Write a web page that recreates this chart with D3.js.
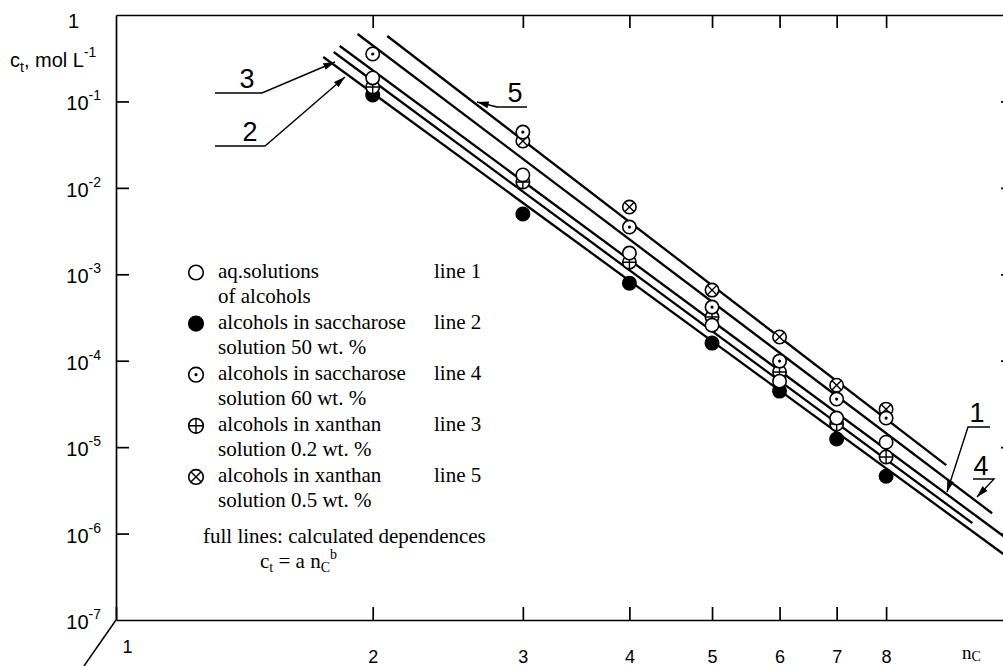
<!DOCTYPE html>
<html>
<head>
<meta charset="utf-8">
<script src="https://cdn.jsdelivr.net/npm/d3@7"></script>
<style>
body { margin: 0; background: #fff; }
svg { display: block; }
</style>
</head>
<body>
<script>
let width = 1003
let height = 666

// measured points, c_t in mol/L for n_C = 2..8
const nC = [2, 3, 4, 5, 6, 7, 8]
const aqAlcohols = [0.187, 0.0141, 0.00176, 2.58e-4, 5.8e-5, 2.17e-5, 1.14e-5]
const saccharose50 = [0.119, 0.00498, 7.9e-4, 1.6e-4, 4.45e-5, 1.24e-5, 4.6e-6]
const saccharose60 = [0.354, 0.0442, 0.00352, 4.17e-4, 9.9e-5, 3.6e-5, 2.17e-5]
const xanthan02 = [0.147, 0.0117, 0.00138, 3.2e-4, 7.4e-5, 1.85e-5, 7.7e-6]
const xanthan05 = [null, 0.0348, 0.0060, 6.56e-4, 1.88e-4, 5.2e-5, 2.75e-5]

// calculated lines c_t = a nC^b, given by their end points
const lineIds = [5, 4, 1, 3, 2]
const lineFromN = [2.08, 1.92, 1.83, 1.80, 1.75]
const lineFromC = [0.571, 0.603, 0.438, 0.373, 0.327]
const lineToN = [9.41, 10.65, 11.3, 10.1, 11.3]
const lineToC = [6.19e-6, 1.72e-6, 7.6e-7, 1.32e-6, 4.72e-7]

const xTicks = [1, 2, 3, 4, 5, 6, 7, 8]
const yTickExp = [0, -1, -2, -3, -4, -5, -6, -7]

const legendSymbols = ["open", "filled", "dot", "plus", "cross"]
const legendText1 = ["aq.solutions", "alcohols in saccharose", "alcohols in saccharose", "alcohols in xanthan", "alcohols in xanthan"]
const legendText2 = ["of alcohols", "solution 50 wt. %", "solution 60 wt. %", "solution 0.2 wt. %", "solution 0.5 wt. %"]
const legendLine = ["line 1", "line 2", "line 4", "line 3", "line 5"]

let sans = "'Liberation Sans', Arial, sans-serif"
let serif = "'Liberation Serif', 'Times New Roman', serif"
let r = 6.7

let svg = d3.select("body").append("svg")
    .attr("width", width)
    .attr("height", height)

let x = d3.scaleLog().domain([1, 11.3]).range([116, 1014])
let y = d3.scaleLog().domain([1e-7, 1]).range([620, 15])

svg.append("defs").append("marker")
    .attr("id", "arrow")
    .attr("viewBox", "0 0 10 6")
    .attr("refX", 10).attr("refY", 3)
    .attr("markerWidth", 12).attr("markerHeight", 7)
    .attr("markerUnits", "userSpaceOnUse")
    .attr("orient", "auto")
    .append("path").attr("d", "M0,0L10,3L0,6z").attr("fill", "#000")

svg.append("clipPath").attr("id", "plot")
    .append("rect").attr("x", 116).attr("y", 15).attr("width", 898).attr("height", 605)

let styleAxis = g => {
    g.selectAll(".domain, .tick line").attr("stroke", "#000").attr("stroke-width", 1.7)
    g.attr("font-family", sans).attr("font-size", 18)
}

svg.append("g")
    .attr("transform", `translate(0,${y(1e-7)})`)
    .call(d3.axisBottom(x).tickValues(xTicks).tickSizeInner(-13).tickSizeOuter(0).tickPadding(30).tickFormat(d3.format("d")))
    .call(styleAxis)
    .call(g => g.selectAll(".tick").filter(d => d === 1).select("text").attr("dx", 11).attr("dy", "0.15em"))

svg.append("g")
    .attr("transform", `translate(0,${y(1)})`)
    .call(d3.axisTop(x).tickValues(nC).tickSizeInner(-13).tickSizeOuter(0).tickFormat(""))
    .call(styleAxis)

svg.append("g")
    .attr("transform", `translate(${x(1)},0)`)
    .call(d3.axisLeft(y).tickValues(yTickExp.slice(1, 7).map(e => Math.pow(10, e))).tickSizeInner(-13).tickSizeOuter(0).tickFormat(""))
    .call(styleAxis)

svg.append("g")
    .attr("transform", `translate(${x(11.3)},0)`)
    .call(d3.axisRight(y).tickValues(yTickExp.slice(1, 7).map(e => Math.pow(10, e))).tickSizeInner(-13).tickSizeOuter(0).tickFormat(""))
    .call(styleAxis)

// oblique stroke at the lower left corner
svg.append("line")
    .attr("x1", x(1)).attr("y1", y(1e-7))
    .attr("x2", x(1) - 32).attr("y2", y(1e-7) + 46)
    .attr("stroke", "#000").attr("stroke-width", 1.5)

// y tick labels 1, 10^-1 ... 10^-7
yTickExp.forEach(e => {
    let t = svg.append("text")
        .attr("font-family", sans).attr("font-size", 20)
        .attr("text-anchor", "end")
        .attr("y", y(Math.pow(10, e)) + (e === 0 ? 13 : 9))
    if (e === 0) {
        t.attr("x", 79).text("1")
    } else {
        t.attr("x", 101)
        t.append("tspan").text("10")
        t.append("tspan").attr("font-size", 14).attr("dy", -10).text(e)
    }
})

let yTitle = svg.append("text").attr("x", 10).attr("y", 67).attr("font-family", sans).attr("font-size", 20)
yTitle.append("tspan").text("c")
yTitle.append("tspan").attr("font-size", 14).attr("dy", 5).text("t")
yTitle.append("tspan").attr("dy", -5).text(", mol L")
yTitle.append("tspan").attr("font-size", 14).attr("dy", -10).text("-1")

let xTitle = svg.append("text").attr("x", 962).attr("y", 659).attr("font-family", serif).attr("font-size", 19)
xTitle.append("tspan").text("n")
xTitle.append("tspan").attr("font-size", 14).attr("dy", 2).text("C")

// calculated dependences
svg.append("g").attr("clip-path", "url(#plot)")
    .selectAll("line")
    .data(lineIds)
    .join("line")
    .attr("x1", (d, i) => x(lineFromN[i]))
    .attr("y1", (d, i) => y(lineFromC[i]))
    .attr("x2", (d, i) => x(lineToN[i]))
    .attr("y2", (d, i) => y(lineToC[i]))
    .attr("stroke", "#000")
    .attr("stroke-width", 2.3)

let drawSymbol = (g, kind, rad) => {
    g.append("circle").attr("r", rad)
        .attr("fill", kind === "filled" ? "#000" : "#fff")
        .attr("stroke", "#000").attr("stroke-width", 1.6)
    if (kind === "dot") {
        g.append("circle").attr("r", 1.6).attr("fill", "#000")
    }
    if (kind === "plus") {
        g.append("path").attr("d", `M${-rad},0H${rad}M0,${-rad}V${rad}`).attr("stroke", "#000").attr("stroke-width", 1.4)
    }
    if (kind === "cross") {
        let k = rad * 0.707
        g.append("path").attr("d", `M${-k},${-k}L${k},${k}M${-k},${k}L${k},${-k}`).attr("stroke", "#000").attr("stroke-width", 1.4)
    }
}

let series = [
    {values: saccharose50, kind: "filled"},
    {values: xanthan02, kind: "plus"},
    {values: aqAlcohols, kind: "open"},
    {values: xanthan05, kind: "cross"},
    {values: saccharose60, kind: "dot"}
]

series.forEach(s => {
    svg.append("g").selectAll("g")
        .data(nC.map((n, i) => ({n: n, c: s.values[i]})).filter(d => d.c !== null))
        .join("g")
        .attr("transform", d => `translate(${x(d.n)},${y(d.c)})`)
        .each(function() { drawSymbol(d3.select(this), s.kind, r) })
})

// legend
let legend = svg.append("g").attr("font-family", serif).attr("font-size", 21)
legendSymbols.forEach((kind, i) => {
    let base = 277.5 + i * 51.1
    drawSymbol(legend.append("g").attr("transform", `translate(196,${base - 5})`), kind, 7.3)
    legend.append("text").attr("x", 218).attr("y", base).text(legendText1[i])
    legend.append("text").attr("x", 218).attr("y", base + 25.3).text(legendText2[i])
    legend.append("text").attr("x", 434).attr("y", base).text(legendLine[i])
})
legend.append("text").attr("x", 203).attr("y", 543).text("full lines: calculated dependences")
let formula = legend.append("text").attr("x", 260).attr("y", 568)
formula.append("tspan").text("c")
formula.append("tspan").attr("font-size", 14).attr("dy", 4).text("t")
formula.append("tspan").attr("dy", -4).text(" = a n")
formula.append("tspan").attr("font-size", 14).attr("dy", 4).text("C")
formula.append("tspan").attr("font-size", 14).attr("dy", -13).text("b")

// line labels with leaders
let labels = [
    {t: "3", tx: 247, ty: 88, path: [[215, 93], [262, 93], [335, 62]]},
    {t: "2", tx: 250, ty: 141, path: [[215, 146], [265, 146], [345, 77]]},
    {t: "5", tx: 515, ty: 102, path: [[527, 107], [497, 107], [477, 102]]},
    {t: "1", tx: 977, ty: 422, path: [[990, 427], [968, 427], [947, 492]]},
    {t: "4", tx: 981, ty: 475, path: [[973, 479], [994, 479], [977, 497]]}
]
labels.forEach(l => {
    svg.append("text").attr("x", l.tx).attr("y", l.ty)
        .attr("text-anchor", "middle")
        .attr("font-family", sans).attr("font-size", 27)
        .text(l.t)
    svg.append("path")
        .attr("d", d3.line()(l.path))
        .attr("fill", "none").attr("stroke", "#000").attr("stroke-width", 1.4)
        .attr("marker-end", "url(#arrow)")
})
</script>
</body>
</html>
